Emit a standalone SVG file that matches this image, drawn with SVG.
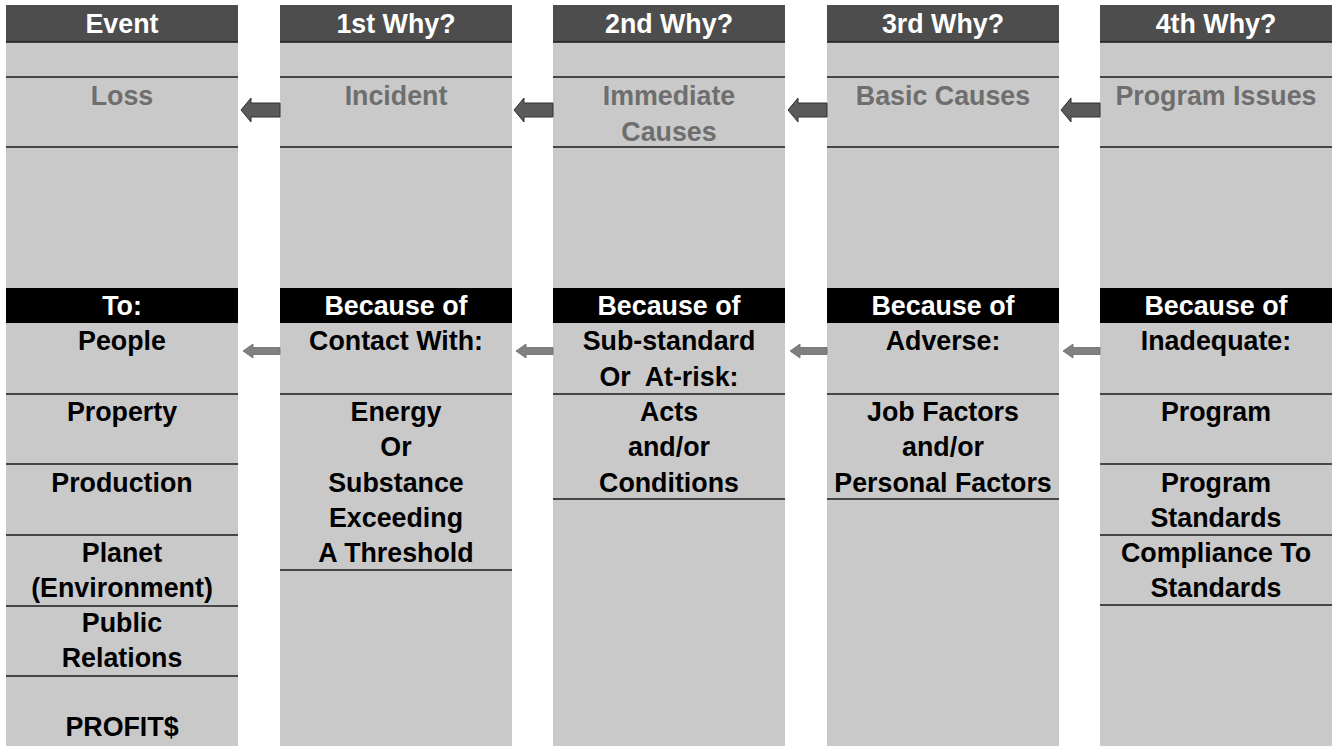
<svg xmlns="http://www.w3.org/2000/svg" width="1334" height="746" viewBox="0 0 1334 746">
<defs>
<style>
.body{fill:#c9c9c9}
.hdr{fill:#4d4d4d}
.blk{fill:#000}
.sep{stroke:#1a1a1a;stroke-width:1.5;fill:none}
text{font-family:"Liberation Sans",Arial,sans-serif;font-weight:bold;font-size:26.8px;text-anchor:middle}
.wt{fill:#fff}
.gt{fill:#6e6e6e}
.bt{fill:#000}
.arT{fill:#5a5a5a;stroke:#303030;stroke-width:1}
.arB{fill:#808080;stroke:#6a6a6a;stroke-width:0.8}
</style>
<path id="arrowTop" d="M0,0 L10,-12 L10,-7 L39,-7 L39,7 L10,7 L10,12 Z"/>
<path id="arrowBot" d="M0,0 L10,-7 L10,-3.5 L37,-3.5 L37,3.5 L10,3.5 L10,7 Z"/>
</defs>
<rect width="1334" height="746" fill="#fff"/>

<g id="col-event">
<rect class="body" x="6" y="5" width="232" height="741"/>
<rect class="hdr" x="6" y="5" width="232" height="37"/>
<line class="sep" x1="6" y1="42" x2="238" y2="42"/>
<text class="wt" x="122" y="33">Event</text>
<line class="sep" x1="6" y1="77" x2="238" y2="77"/>
<text class="gt" x="122" y="105">Loss</text>
<line class="sep" x1="6" y1="147" x2="238" y2="147"/>
<rect class="blk" x="6" y="288" width="232" height="35"/>
<text class="wt" x="122" y="315">To:</text>
<text class="bt" x="122" y="350">People</text>
<line class="sep" x1="6" y1="394" x2="238" y2="394"/>
<text class="bt" x="122" y="421">Property</text>
<line class="sep" x1="6" y1="464" x2="238" y2="464"/>
<text class="bt" x="122" y="492">Production</text>
<line class="sep" x1="6" y1="535" x2="238" y2="535"/>
<text class="bt" x="122" y="562">Planet</text>
<text class="bt" x="122" y="597">(Environment)</text>
<line class="sep" x1="6" y1="606" x2="238" y2="606"/>
<text class="bt" x="122" y="632">Public</text>
<text class="bt" x="122" y="667">Relations</text>
<line class="sep" x1="6" y1="676" x2="238" y2="676"/>
<text class="bt" x="122" y="736">PROFIT$</text>
</g>

<g id="col-why1">
<rect class="body" x="280" y="5" width="232" height="741"/>
<rect class="hdr" x="280" y="5" width="232" height="37"/>
<line class="sep" x1="280" y1="42" x2="512" y2="42"/>
<text class="wt" x="396" y="33">1st Why?</text>
<line class="sep" x1="280" y1="77" x2="512" y2="77"/>
<text class="gt" x="396" y="105">Incident</text>
<line class="sep" x1="280" y1="147" x2="512" y2="147"/>
<rect class="blk" x="280" y="288" width="232" height="35"/>
<text class="wt" x="396" y="315">Because of</text>
<text class="bt" x="396" y="350">Contact With:</text>
<line class="sep" x1="280" y1="394" x2="512" y2="394"/>
<text class="bt" x="396" y="421">Energy</text>
<text class="bt" x="396" y="456">Or</text>
<text class="bt" x="396" y="492">Substance</text>
<text class="bt" x="396" y="527">Exceeding</text>
<text class="bt" x="396" y="562">A Threshold</text>
<line class="sep" x1="280" y1="570" x2="512" y2="570"/>
</g>

<g id="col-why2">
<rect class="body" x="553" y="5" width="232" height="741"/>
<rect class="hdr" x="553" y="5" width="232" height="37"/>
<line class="sep" x1="553" y1="42" x2="785" y2="42"/>
<text class="wt" x="669" y="33">2nd Why?</text>
<line class="sep" x1="553" y1="77" x2="785" y2="77"/>
<text class="gt" x="669" y="105">Immediate</text>
<text class="gt" x="669" y="141">Causes</text>
<line class="sep" x1="553" y1="147" x2="785" y2="147"/>
<rect class="blk" x="553" y="288" width="232" height="35"/>
<text class="wt" x="669" y="315">Because of</text>
<text class="bt" x="669" y="350">Sub-standard</text>
<text class="bt" x="669" y="386" xml:space="preserve">Or  At-risk:</text>
<line class="sep" x1="553" y1="394" x2="785" y2="394"/>
<text class="bt" x="669" y="421">Acts</text>
<text class="bt" x="669" y="456">and/or</text>
<text class="bt" x="669" y="492">Conditions</text>
<line class="sep" x1="553" y1="499" x2="785" y2="499"/>
</g>

<g id="col-why3">
<rect class="body" x="827" y="5" width="232" height="741"/>
<rect class="hdr" x="827" y="5" width="232" height="37"/>
<line class="sep" x1="827" y1="42" x2="1059" y2="42"/>
<text class="wt" x="943" y="33">3rd Why?</text>
<line class="sep" x1="827" y1="77" x2="1059" y2="77"/>
<text class="gt" x="943" y="105">Basic Causes</text>
<line class="sep" x1="827" y1="147" x2="1059" y2="147"/>
<rect class="blk" x="827" y="288" width="232" height="35"/>
<text class="wt" x="943" y="315">Because of</text>
<text class="bt" x="943" y="350">Adverse:</text>
<line class="sep" x1="827" y1="394" x2="1059" y2="394"/>
<text class="bt" x="943" y="421">Job Factors</text>
<text class="bt" x="943" y="456">and/or</text>
<text class="bt" x="943" y="492">Personal Factors</text>
<line class="sep" x1="827" y1="499" x2="1059" y2="499"/>
</g>

<g id="col-why4">
<rect class="body" x="1100" y="5" width="232" height="741"/>
<rect class="hdr" x="1100" y="5" width="232" height="37"/>
<line class="sep" x1="1100" y1="42" x2="1332" y2="42"/>
<text class="wt" x="1216" y="33">4th Why?</text>
<line class="sep" x1="1100" y1="77" x2="1332" y2="77"/>
<text class="gt" x="1216" y="105">Program Issues</text>
<line class="sep" x1="1100" y1="147" x2="1332" y2="147"/>
<rect class="blk" x="1100" y="288" width="232" height="35"/>
<text class="wt" x="1216" y="315">Because of</text>
<text class="bt" x="1216" y="350">Inadequate:</text>
<line class="sep" x1="1100" y1="394" x2="1332" y2="394"/>
<text class="bt" x="1216" y="421">Program</text>
<line class="sep" x1="1100" y1="464" x2="1332" y2="464"/>
<text class="bt" x="1216" y="492">Program</text>
<text class="bt" x="1216" y="527">Standards</text>
<line class="sep" x1="1100" y1="535" x2="1332" y2="535"/>
<text class="bt" x="1216" y="562">Compliance To</text>
<text class="bt" x="1216" y="597">Standards</text>
<line class="sep" x1="1100" y1="605" x2="1332" y2="605"/>
</g>

<g id="connectors">
<use href="#arrowTop" class="arT" x="241" y="110"/>
<use href="#arrowTop" class="arT" x="514" y="110"/>
<use href="#arrowTop" class="arT" x="788" y="110"/>
<use href="#arrowTop" class="arT" x="1061" y="110"/>
<use href="#arrowBot" class="arB" x="243" y="351"/>
<use href="#arrowBot" class="arB" x="516" y="351"/>
<use href="#arrowBot" class="arB" x="790" y="351"/>
<use href="#arrowBot" class="arB" x="1063" y="351"/>
</g>
</svg>
